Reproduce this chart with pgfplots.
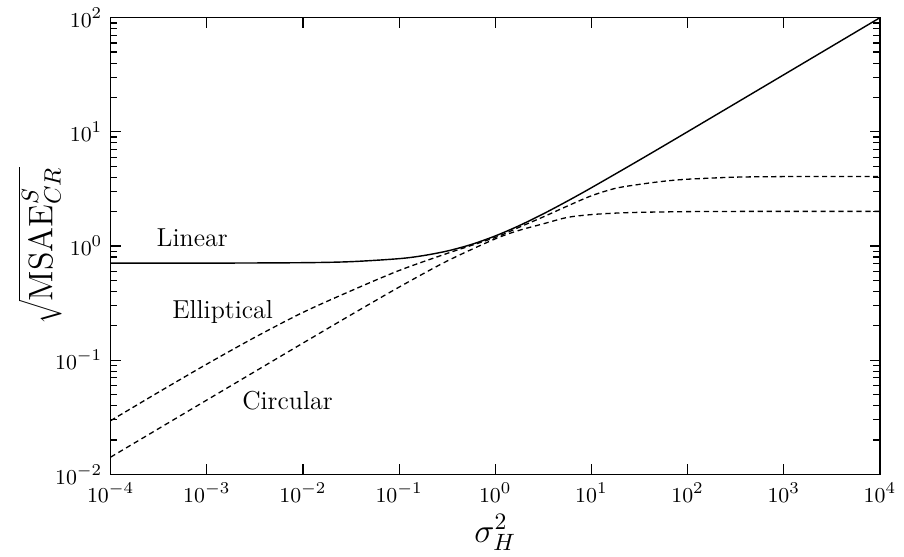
\documentclass[border=0pt]{standalone}
\usepackage{pgfplots}
\pgfplotsset{compat=1.18}
\begin{document}
\begin{tikzpicture}
\begin{loglogaxis}[
  scale only axis,
  width=326pt, height=193.5pt,
  xmin=1e-4, xmax=1e4, ymin=1e-2, ymax=1e2,
  xtick={1e-4,1e-3,1e-2,1e-1,1,1e1,1e2,1e3,1e4},
  ytick={1e-2,1e-1,1,1e1,1e2},
  xminorticks=false,
  tick label style={font=\fontsize{9.5}{11}\selectfont},
  axis line style={line width=0.6pt},
  every tick/.style={line width=0.5pt, black},
  xlabel={\Large $\sigma_H^2$},
  ylabel={\Large $\sqrt{\mathrm{MSAE}^S_{CR}}$},
  xlabel style={at={(axis description cs:0.5,-0.128)}, anchor=center, inner sep=0pt},
  ylabel style={at={(axis description cs:-0.092,0.5)}, anchor=center, inner sep=0pt},
]
% Linear
\addplot[black, line width=0.6pt, smooth] coordinates {
(1e-4,0.7072) (1e-3,0.7078) (1e-2,0.7141) (0.03162,0.7291) (0.1,0.7746)
(0.1778,0.8233) (0.3162,0.9034) (0.5623,1.0307) (1,1.2247) (1.778,1.5093)
(3.162,1.9136) (5.623,2.4745) (10,3.2404) (31.62,5.668) (100,10.025)
(1000,31.63) (1e4,100.0)
};
% Elliptical
\addplot[black, line width=0.55pt, dash pattern=on 2.2pt off 1.4pt, smooth] coordinates {
(1e-4,0.0295) (3.162e-4,0.0525) (1e-3,0.0923) (3.162e-3,0.1585) (1e-2,0.262)
(0.03162,0.405) (0.1,0.610) (0.3162,0.861) (1,1.189) (1.778,1.462)
(3.162,1.80) (5.623,2.239) (10,2.754) (17.78,3.20) (31.62,3.467)
(56.23,3.69) (100,3.846) (316.2,4.009) (1000,4.055) (3162,4.064) (1e4,4.064)
};
% Circular
\addplot[black, line width=0.55pt, dash pattern=on 2.2pt off 1.6pt, smooth] coordinates {
(1e-4,0.01414) (3.162e-4,0.02515) (1e-3,0.04471) (3.162e-3,0.07946) (1e-2,0.1411)
(0.03162,0.2495) (0.1,0.4364) (0.3162,0.7391) (1,1.1547) (1.778,1.372)
(3.162,1.565) (5.623,1.78) (10,1.884) (17.78,1.941) (31.62,1.972)
(100,2.0) (316.2,2.009) (1000,2.01) (1e4,2.01)
};
\node[font=\fontsize{11}{13}\selectfont] at (axis cs:7.05e-4,1.17) {Linear};
\node[font=\fontsize{11}{13}\selectfont] at (axis cs:1.46e-3,0.263) {Elliptical};
\node[font=\fontsize{11}{13}\selectfont] at (axis cs:6.9e-3,0.0446) {Circular};
\end{loglogaxis}
\path (-46.9pt,-35pt) (330pt,199.8pt);
\end{tikzpicture}
\end{document}
